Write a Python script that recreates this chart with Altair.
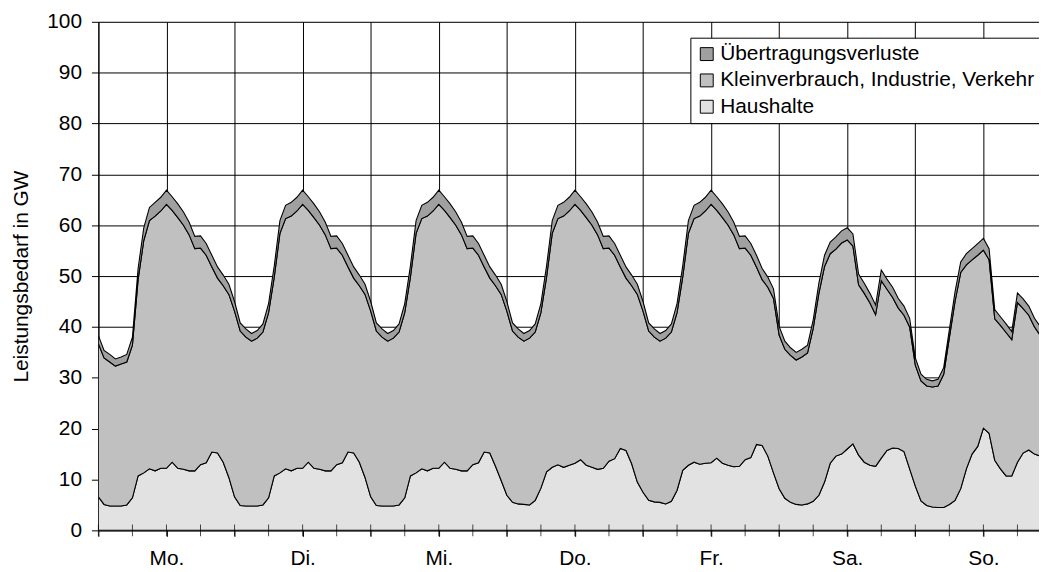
import json
import altair as alt
import pandas as pd

# ---------------- data ----------------
day_labels = ["Mo.", "Di.", "Mi.", "Do.", "Fr.", "Sa.", "So."]
series_names = ["Übertragungsverluste", "Kleinverbrauch, Industrie, Verkehr", "Haushalte"]
series_colors = ["#a0a0a0", "#c0c0c0", "#e2e2e2"]
y_ticks = list(range(0, 101, 10))
x_ticks = list(range(0, 163, 6))  # every 6 hours

# Top line of the stack (total demand, GW), hourly
total_mo = [38.3, 35.4, 34.6, 33.7, 34.1, 34.6, 38.0, 51.5, 59.5, 63.5, 64.5, 65.5,
            66.9, 65.6, 64.2, 62.6, 60.6, 57.8, 57.9, 56.4, 54.1, 51.8, 50.2, 48.4]
total_di = [45.0, 40.8, 39.6, 38.7, 39.3, 40.6, 44.6, 52.0, 60.9, 63.9, 64.5, 65.5,
            66.9, 65.6, 64.2, 62.6, 60.6, 57.8, 57.9, 56.4, 54.1, 51.8, 50.2, 48.4]
total_mi = [45.0, 40.8, 39.6, 38.7, 39.3, 40.6, 44.6, 52.0, 60.9, 63.9, 64.5, 65.5,
            66.9, 65.6, 64.2, 62.6, 60.6, 57.8, 57.9, 56.4, 54.1, 51.8, 50.2, 48.4]
total_do = [45.0, 40.8, 39.6, 38.7, 39.3, 40.6, 44.6, 52.0, 60.9, 63.9, 64.5, 65.5,
            66.9, 65.6, 64.2, 62.6, 60.6, 57.8, 57.9, 56.4, 54.1, 51.8, 50.2, 48.4]
total_fr = [45.0, 40.8, 39.6, 38.7, 39.3, 40.6, 44.6, 52.0, 60.9, 63.9, 64.5, 65.5,
            66.9, 65.6, 64.2, 62.6, 60.6, 57.8, 57.9, 56.4, 54.1, 51.5, 49.8, 47.5]
total_sa = [40.1, 37.2, 35.9, 35.0, 35.6, 36.4, 41.4, 48.6, 54.1, 56.7, 57.7, 58.9,
            59.5, 58.3, 50.4, 48.6, 46.6, 44.3, 51.2, 49.4, 47.8, 45.6, 44.1, 41.7]
total_so = [33.9, 30.7, 29.7, 29.4, 29.7, 32.0, 39.5, 46.9, 52.8, 54.4, 55.4, 56.4,
            57.4, 55.4, 43.4, 42.0, 40.6, 39.1, 46.7, 45.5, 44.1, 41.7, 40.1]

# Haushalte (GW), hourly
hh_mo = [6.6, 5.1, 4.8, 4.8, 4.8, 5.0, 6.4, 10.7, 11.3, 12.1, 11.7, 12.2,
         12.2, 13.4, 12.2, 12.0, 11.7, 11.7, 12.9, 13.3, 15.4, 15.2, 13.4, 10.4]
hh_di = [6.6, 4.9, 4.8, 4.8, 4.8, 5.0, 6.4, 10.7, 11.3, 12.1, 11.7, 12.2,
         12.2, 13.4, 12.2, 12.0, 11.7, 11.7, 12.9, 13.3, 15.4, 15.2, 13.4, 10.4]
hh_mi = [6.6, 4.9, 4.8, 4.8, 4.8, 5.0, 6.4, 10.7, 11.3, 12.1, 11.7, 12.2,
         12.2, 13.4, 12.2, 12.0, 11.7, 11.7, 12.9, 13.3, 15.4, 15.2, 12.6, 9.8]
hh_do = [6.9, 5.5, 5.2, 5.1, 5.0, 5.9, 8.3, 11.5, 12.4, 12.9, 12.4, 12.8,
         13.2, 13.9, 12.8, 12.4, 12.0, 12.2, 13.6, 14.1, 16.1, 15.7, 13.1, 9.5]
hh_fr = [7.5, 5.9, 5.6, 5.5, 5.2, 5.7, 7.9, 11.8, 12.8, 13.4, 13.0, 13.2,
         13.3, 14.2, 13.2, 12.8, 12.5, 12.6, 13.9, 14.3, 16.9, 16.7, 14.6, 11.3]
hh_sa = [8.2, 6.3, 5.5, 5.1, 5.0, 5.2, 5.7, 6.9, 9.5, 13.2, 14.6, 15.0,
         16.0, 17.0, 14.8, 13.4, 12.8, 12.6, 14.2, 15.7, 16.2, 16.1, 15.5, 12.1]
hh_so = [8.7, 5.8, 4.9, 4.6, 4.5, 4.5, 5.1, 5.9, 8.2, 12.1, 15.0, 16.5,
         20.1, 19.1, 13.8, 12.1, 10.7, 10.7, 13.4, 15.2, 15.8, 15.0, 14.6]

# Übertragungsverluste (GW), hourly
loss_mo = [1.6, 1.5, 1.5, 1.4, 1.4, 1.5, 1.6, 2.2, 2.5, 2.6, 2.7, 2.7,
           2.8, 2.7, 2.7, 2.6, 2.5, 2.4, 2.4, 2.3, 2.3, 2.2, 2.1, 2.0]
loss_di = [1.9, 1.6, 1.6, 1.5, 1.5, 1.6, 1.8, 2.2, 2.5, 2.6, 2.7, 2.7,
           2.8, 2.7, 2.7, 2.6, 2.5, 2.4, 2.4, 2.3, 2.3, 2.2, 2.1, 2.0]
loss_mi = [1.9, 1.6, 1.6, 1.5, 1.5, 1.6, 1.8, 2.2, 2.5, 2.6, 2.7, 2.7,
           2.8, 2.7, 2.7, 2.6, 2.5, 2.4, 2.4, 2.3, 2.3, 2.2, 2.1, 2.0]
loss_do = [1.9, 1.6, 1.6, 1.5, 1.5, 1.6, 1.8, 2.2, 2.5, 2.6, 2.7, 2.7,
           2.8, 2.7, 2.7, 2.6, 2.5, 2.4, 2.4, 2.3, 2.3, 2.2, 2.1, 2.0]
loss_fr = [1.9, 1.6, 1.6, 1.5, 1.5, 1.6, 1.8, 2.2, 2.5, 2.6, 2.7, 2.7,
           2.8, 2.7, 2.7, 2.6, 2.5, 2.4, 2.4, 2.3, 2.3, 2.2, 2.0, 1.9]
loss_sa = [1.7, 1.6, 1.5, 1.5, 1.5, 1.5, 1.7, 2.0, 2.2, 2.3, 2.4, 2.4,
           2.4, 2.4, 2.1, 2.0, 1.9, 1.9, 2.1, 2.0, 2.0, 1.9, 1.8, 1.7]
loss_so = [1.4, 1.3, 1.3, 1.2, 1.3, 1.3, 1.6, 1.9, 2.1, 2.2, 2.2, 2.3,
           2.3, 2.2, 1.8, 1.7, 1.7, 1.6, 1.9, 1.9, 1.8, 1.7, 1.7]

total = total_mo + total_di + total_mi + total_do + total_fr + total_sa + total_so
haushalte = hh_mo + hh_di + hh_mi + hh_do + hh_fr + hh_sa + hh_so
verluste = loss_mo + loss_di + loss_mi + loss_do + loss_fr + loss_sa + loss_so

rows = []
for h, (t, a, l) in enumerate(zip(total, haushalte, verluste)):
    rows.append({"hour": h, "series": series_names[2], "value": a, "ord": 0})
    rows.append({"hour": h, "series": series_names[1], "value": round(t - a - l, 2), "ord": 1})
    rows.append({"hour": h, "series": series_names[0], "value": l, "ord": 2})
df = pd.DataFrame(rows)
tick_df = pd.DataFrame({"hour": x_ticks})

# ---------------- chart ----------------
FONT = "Liberation Sans"
x_scale = alt.Scale(domain=[0, 165.8], nice=False, zero=False)
y_scale = alt.Scale(domain=[0, 100], nice=False)

label_expr = ("datum.value % 24 == 12 ? " + json.dumps(day_labels)
              + "[floor(datum.value / 24)] : ''")

area = alt.Chart(df).mark_area(
    stroke="black", strokeWidth=1.1, clip=True, interpolate="linear"
).encode(
    x=alt.X("hour:Q", scale=x_scale, axis=alt.Axis(
        values=x_ticks, labelExpr=label_expr, title=None,
        grid=True, gridColor="black", gridOpacity=1, gridWidth=1,
        tickSize=6, tickColor="black", domainColor="black",
        labelFont=FONT, labelFontSize=21, labelColor="black",
        labelPadding=11, labelOverlap=False, labelFlush=False)),
    y=alt.Y("value:Q", stack="zero", scale=y_scale, axis=alt.Axis(
        values=y_ticks, title="Leistungsbedarf in GW",
        titleFont=FONT, titleFontSize=21, titleFontWeight="normal", titleColor="black",
        titleX=-71, titleY=256, titleAngle=270, titleBaseline="alphabetic", titleAlign="center",
        grid=True, gridColor="black", gridOpacity=1, gridWidth=1,
        tickSize=7, tickColor="black", domainColor="black",
        labelFont=FONT, labelFontSize=21, labelColor="black", labelPadding=10)),
    color=alt.Color("series:N", scale=alt.Scale(domain=series_names, range=series_colors),
                    legend=alt.Legend(
                        title=None, orient="none", legendX=596, legendY=16,
                        fillColor="white", strokeColor="black", padding=6,
                        rowPadding=4.5, symbolType="square", symbolSize=169,
                        symbolStrokeColor="black", symbolStrokeWidth=1, symbolOpacity=1,
                        labelFont=FONT, labelFontSize=21, labelColor="black",
                        labelOffset=3, labelLimit=0)),
    order=alt.Order("ord:Q"),
)

ticks = alt.Chart(tick_df).mark_tick(
    orient="vertical", size=12, thickness=1, color="black"
).encode(
    x=alt.X("hour:Q", scale=x_scale),
    y=alt.datum(0),
)

chart = alt.layer(area, ticks).properties(
    width=947, height=512,
    autosize=alt.AutoSizeParams(type="none"),
    padding={"left": 91, "top": 12, "right": 0, "bottom": 36},
).configure_view(strokeWidth=0).configure(background="white")

chart.save("out.html", embed_options={"renderer": "svg", "actions": False})
